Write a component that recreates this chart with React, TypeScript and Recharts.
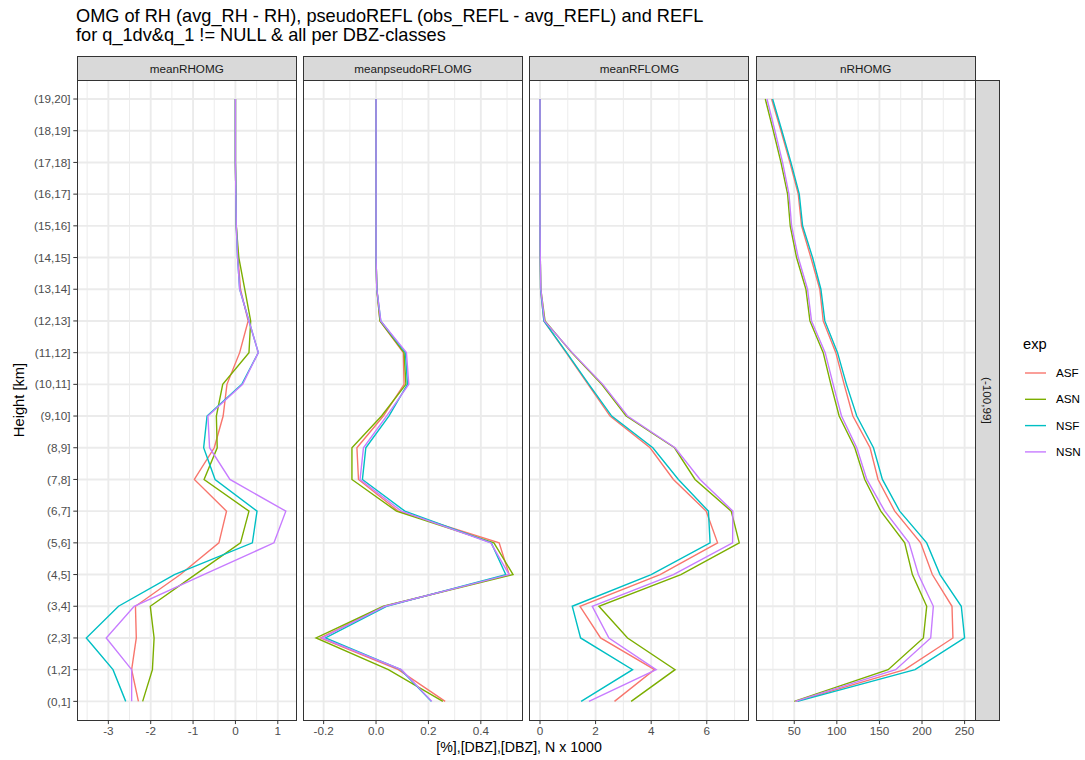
import React from "react";
import { ScatterChart, Scatter, XAxis, YAxis, CartesianGrid } from "recharts";

// height classes, index 0 = lowest
const heightClasses = [
  "(0,1]", "(1,2]", "(2,3]", "(3,4]", "(4,5]", "(5,6]", "(6,7]", "(7,8]", "(8,9]", "(9,10]",
  "(10,11]", "(11,12]", "(12,13]", "(13,14]", "(14,15]", "(15,16]", "(16,17]", "(17,18]", "(18,19]", "(19,20]",
];

const expNames = ["ASF", "ASN", "NSF", "NSN"];
const expColors = ["#F8766D", "#7CAE00", "#00BFC4", "#C77CFF"];

const facetNames = ["meanRHOMG", "meanpseudoRFLOMG", "meanRFLOMG", "nRHOMG"];
const rowStrip = "(-100,99]";

// meanRHOMG
const rhASF = [-2.29, -2.45, -2.34, -2.36, -1.3, -0.39, -0.21, -0.97, -0.5, -0.29, -0.2, 0.1, 0.3, 0.12, 0.06, 0.02, 0.01, 0, 0, 0];
const rhASN = [-2.19, -1.96, -1.92, -2.01, -0.95, 0.12, 0.32, -0.74, -0.43, -0.45, -0.3, 0.32, 0.36, 0.22, 0.08, 0.02, 0.01, 0, 0, 0];
const rhNSF = [-2.59, -2.89, -3.52, -2.76, -1.44, 0.4, 0.51, -0.48, -0.75, -0.67, 0.15, 0.54, 0.32, 0.1, 0.05, 0.02, 0.01, 0, 0, 0];
const rhNSN = [-2.45, -2.45, -3.05, -2.39, -0.75, 0.91, 1.19, -0.13, -0.61, -0.65, 0.17, 0.54, 0.32, 0.1, 0.05, 0.02, 0.01, 0, 0, 0];

// meanpseudoRFLOMG
const psASF = [0.264, 0.085, -0.212, 0.034, 0.508, 0.47, 0.085, -0.067, -0.073, 0.028, 0.107, 0.104, 0.015, 0.003, 0, 0, 0, 0, 0, 0];
const psASN = [0.255, 0.047, -0.229, 0.028, 0.523, 0.45, 0.078, -0.092, -0.092, 0.021, 0.114, 0.107, 0.015, 0.003, 0, 0, 0, 0, 0, 0];
const psNSF = [0.211, 0.095, -0.193, 0.04, 0.495, 0.44, 0.11, -0.052, -0.039, 0.049, 0.12, 0.112, 0.018, 0.003, 0, 0, 0, 0, 0, 0];
const psNSN = [0.213, 0.097, -0.206, 0.034, 0.508, 0.438, 0.097, -0.061, -0.048, 0.04, 0.125, 0.116, 0.018, 0.003, 0, 0, 0, 0, 0, 0];

// meanRFLOMG
const rfASF = [2.68, 4.12, 2.18, 1.44, 4.32, 6.39, 5.98, 4.8, 3.96, 2.52, 1.73, 0.94, 0.14, 0.02, 0.01, 0, 0, 0, 0, 0];
const rfASN = [3.28, 4.86, 3.15, 2.12, 5.07, 7.17, 6.88, 5.58, 4.84, 3.1, 2.22, 1.14, 0.18, 0.03, 0.01, 0, 0, 0, 0, 0];
const rfNSF = [1.48, 3.33, 1.46, 1.16, 4.0, 6.12, 6.06, 4.98, 4.06, 2.58, 1.76, 0.96, 0.14, 0.02, 0.01, 0, 0, 0, 0, 0];
const rfNSN = [1.76, 4.18, 2.48, 1.88, 4.8, 6.93, 6.94, 5.76, 4.86, 3.15, 2.26, 1.16, 0.16, 0.03, 0.01, 0, 0, 0, 0, 0];

// nRHOMG (N x 1000)
const nASF = [52, 179.7, 236.3, 235.2, 212.1, 198.4, 168, 148.4, 139, 118.8, 108.6, 98.8, 84, 80, 69.5, 58.6, 54.7, 44.9, 34.4, 23.4];
const nASN = [50, 160.2, 201.6, 205.5, 188.7, 179.7, 151.6, 132.8, 121.1, 102.7, 93, 84, 68.4, 63.7, 52.7, 45.3, 42.2, 34.4, 25.4, 16];
const nNSF = [53.9, 191.8, 250, 246.1, 221.1, 205.5, 173.8, 153.5, 143, 123.4, 111.3, 100.8, 85.9, 81.3, 71.5, 59.8, 55.9, 46.1, 35.5, 24.6];
const nNSN = [51.2, 169.1, 210.2, 213.3, 195.7, 184.8, 156.3, 135.2, 123.4, 105.5, 95.7, 86.3, 70.3, 65.6, 54.7, 46.9, 43.8, 36.3, 27.3, 18];

// axis ticks per facet
const rhTicks = [-3, -2, -1, 0, 1];
const rhMinor = [-3.5, -2.5, -1.5, -0.5, 0.5];
const psTicks = [-0.2, 0, 0.2, 0.4];
const psMinor = [-0.1, 0.1, 0.3, 0.5];
const rfTicks = [0, 2, 4, 6];
const rfMinor = [1, 3, 5, 7];
const nTicks = [50, 100, 150, 200, 250];
const nMinor = [25, 75, 125, 175, 225];

const FONT = '"Liberation Sans", Arial, Helvetica, sans-serif';
const PANEL_TOP = 80.3;
const PANEL_H = 640.4;
const PANEL_W = 219;
const Y_AXIS_W = 60;
const X_AXIS_H = 30;
const idx = heightClasses.map((_, i) => i);

const panels = [
  { name: facetNames[0], series: [rhASF, rhASN, rhNSF, rhNSN], domain: [-3.74, 1.43], ticks: rhTicks, minor: rhMinor, left: 77.3, fmt: (v: number) => String(v) },
  { name: facetNames[1], series: [psASF, psASN, psNSF, psNSN], domain: [-0.275, 0.561], ticks: psTicks, minor: psMinor, left: 303.6, fmt: (v: number) => v.toFixed(1) },
  { name: facetNames[2], series: [rfASF, rfASN, rfNSF, rfNSN], domain: [-0.36, 7.52], ticks: rfTicks, minor: rfMinor, left: 529.9, fmt: (v: number) => String(v) },
  { name: facetNames[3], series: [nASF, nASN, nNSF, nNSN], domain: [5.1, 262.2], ticks: nTicks, minor: nMinor, left: 756.2, fmt: (v: number) => String(v) },
];

const noDot = () => <g />;

function Panel({ cfg, showY }: { cfg: any; showY: boolean }) {
  const yw = showY ? Y_AXIS_W : 0;
  return (
    <div style={{ position: "absolute", left: cfg.left - yw, top: PANEL_TOP }}>
      <ScatterChart width={PANEL_W + yw} height={PANEL_H + X_AXIS_H} margin={{ top: 0, right: 0, bottom: 0, left: 0 }}>
        <CartesianGrid horizontal={false} verticalValues={cfg.minor} stroke="#EBEBEB" strokeWidth={0.95} />
        <CartesianGrid verticalValues={cfg.ticks} horizontalValues={idx} stroke="#EBEBEB" strokeWidth={1.9} />
        <XAxis
          type="number"
          dataKey="x"
          domain={cfg.domain}
          ticks={cfg.ticks}
          allowDataOverflow
          interval={0}
          axisLine={false}
          tickLine={{ stroke: "#333333", strokeWidth: 1 }}
          tickSize={3.7}
          tickMargin={2.9}
          height={X_AXIS_H}
          tickFormatter={cfg.fmt}
          tick={{ fontSize: 11.7, fill: "#4D4D4D", fontFamily: FONT }}
        />
        <YAxis
          type="number"
          dataKey="y"
          domain={[-0.6, 19.6]}
          ticks={idx}
          allowDataOverflow
          interval={0}
          hide={!showY}
          width={yw}
          axisLine={false}
          tickLine={{ stroke: "#333333", strokeWidth: 1 }}
          tickSize={3.7}
          tickMargin={2.9}
          tickFormatter={(i: number) => heightClasses[i]}
          tick={{ fontSize: 11.7, fill: "#4D4D4D", fontFamily: FONT }}
        />
        {cfg.series.map((vals: number[], s: number) => (
          <Scatter
            key={expNames[s]}
            name={expNames[s]}
            data={vals.map((v, i) => ({ x: v, y: i }))}
            fill={expColors[s]}
            line={{ stroke: expColors[s], strokeWidth: 1.4 }}
            lineType="joint"
            shape={noDot}
            isAnimationActive={false}
          />
        ))}
      </ScatterChart>
      <div
        style={{
          position: "absolute",
          left: yw - 0.6,
          top: -0.6,
          width: PANEL_W + 1.2,
          height: PANEL_H + 1.2,
          border: "1.2px solid #333333",
          boxSizing: "border-box",
          pointerEvents: "none",
        }}
      />
      <div
        style={{
          position: "absolute",
          left: yw - 0.6,
          top: -24.6,
          width: PANEL_W + 1.2,
          height: 25,
          background: "#D9D9D9",
          border: "1.2px solid #333333",
          boxSizing: "border-box",
          display: "flex",
          alignItems: "center",
          justifyContent: "center",
          fontSize: 11.7,
          color: "#1A1A1A",
          fontFamily: FONT,
        }}
      >
        {cfg.name}
      </div>
    </div>
  );
}

export default function App() {
  return (
    <div style={{ position: "absolute", left: 0, top: 0, width: 1085, height: 760, background: "#fff", fontFamily: FONT, overflow: "hidden" }}>
      <div style={{ position: "absolute", left: 76, top: 7, fontSize: 18.2, lineHeight: "18.5px", color: "#000", whiteSpace: "pre" }}>
        {"OMG of RH (avg_RH - RH), pseudoREFL (obs_REFL - avg_REFL) and REFL\nfor q_1dv&q_1 != NULL & all per DBZ-classes"}
      </div>

      {panels.map((p, i) => (
        <Panel key={p.name} cfg={p} showY={i === 0} />
      ))}

      {/* right strip */}
      <div
        style={{
          position: "absolute",
          left: 975.2,
          top: PANEL_TOP - 0.6,
          width: 24.6,
          height: PANEL_H + 1.2,
          background: "#D9D9D9",
          border: "1.2px solid #333333",
          boxSizing: "border-box",
          display: "flex",
          alignItems: "center",
          justifyContent: "center",
        }}
      >
        <span style={{ writingMode: "vertical-rl", fontSize: 11.7, color: "#1A1A1A" }}>{rowStrip}</span>
      </div>

      {/* axis titles */}
      <div style={{ position: "absolute", left: 319, width: 400, top: 739, textAlign: "center", fontSize: 14.2, color: "#000" }}>
        [%],[DBZ],[DBZ], N x 1000
      </div>
      <div
        style={{
          position: "absolute",
          left: 19 - 60,
          top: 400 - 10,
          width: 120,
          height: 20,
          lineHeight: "20px",
          textAlign: "center",
          fontSize: 14.7,
          color: "#000",
          transform: "rotate(-90deg)",
        }}
      >
        Height [km]
      </div>

      {/* legend */}
      <div style={{ position: "absolute", left: 1023, top: 336, fontSize: 14.7, color: "#000" }}>exp</div>
      <svg style={{ position: "absolute", left: 1020, top: 360 }} width={30} height={110}>
        {expNames.map((n, i) => (
          <line key={n} x1={5} x2={26} y1={13 + i * 26.3} y2={13 + i * 26.3} stroke={expColors[i]} strokeWidth={1.4} />
        ))}
      </svg>
      {expNames.map((n, i) => (
        <div key={n} style={{ position: "absolute", left: 1056, top: 373 + i * 26.3 - 8, fontSize: 11.7, color: "#000", lineHeight: "16px" }}>
          {n}
        </div>
      ))}
    </div>
  );
}
